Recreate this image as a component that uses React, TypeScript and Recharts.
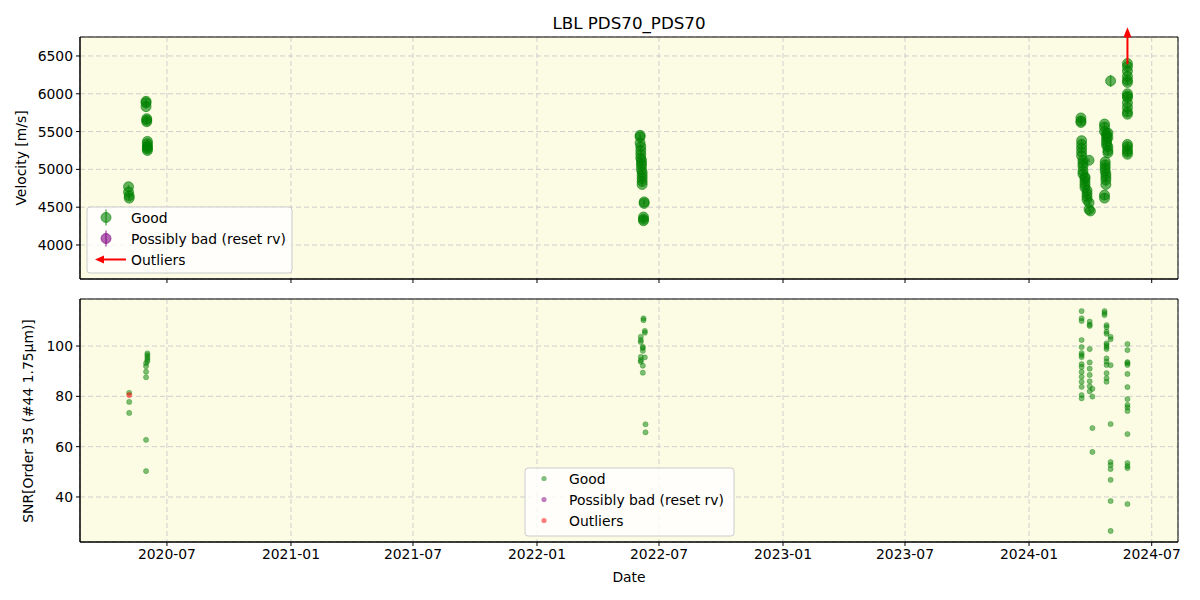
import { ComposedChart, Scatter, XAxis, YAxis, CartesianGrid, ErrorBar, ReferenceArea } from "recharts";

const FONT = "'DejaVu Sans', sans-serif";
const t = (s: string) => Date.parse(s + "T00:00:00Z");

const X_DOMAIN = ["2020-02-23", "2024-08-09"];
const X_TICKS = [
  "2020-07-01", "2021-01-01", "2021-07-01", "2022-01-01", "2022-07-01",
  "2023-01-01", "2023-07-01", "2024-01-01", "2024-07-01",
];
const VEL_DOMAIN = [3550, 6751];
const VEL_TICKS = [4000, 4500, 5000, 5500, 6000, 6500];
const SNR_DOMAIN = [22.1, 118.7];
const SNR_TICKS = [40, 60, 80, 100];

// velocity [m/s] per night, error ~25 m/s unless given separately
const velocityGood: [string, number[]][] = [
  ["2020-05-05", [4770, 4700]],
  ["2020-05-06", [4650, 4620]],
  ["2020-05-31", [5900, 5880, 5830]],
  ["2020-06-01", [5670, 5650, 5630]],
  ["2020-06-02", [5370, 5340, 5310, 5290, 5270, 5250]],
  ["2022-06-03", [5450, 5430, 5350]],
  ["2022-06-04", [5300, 5250, 5200, 5150]],
  ["2022-06-05", [5120, 5080, 5050, 5000]],
  ["2022-06-06", [4960, 4920, 4880, 4840, 4800]],
  ["2022-06-09", [4570, 4550]],
  ["2022-06-08", [4370, 4340, 4320]],
  ["2024-03-18", [5680, 5640, 5620]],
  ["2024-03-19", [5380, 5330, 5280, 5230, 5180]],
  ["2024-03-21", [5120, 5080, 5040, 4980, 4940]],
  ["2024-03-24", [4900, 4880, 4840, 4800, 4760]],
  ["2024-03-27", [4720, 4680, 4640, 4600]],
  ["2024-03-30", [4560, 4470, 5120]],
  ["2024-04-01", [4450]],
  ["2024-04-22", [5600, 5560, 5500, 4660, 4620]],
  ["2024-04-25", [5470, 5440, 5400, 5360, 5320]],
  ["2024-04-27", [5480, 5420, 5300, 5250, 5220]],
  ["2024-04-23", [5100, 5060, 5020, 4980]],
  ["2024-04-24", [4940, 4900, 4860, 4800]],
  ["2024-05-26", [6400, 6360, 6300, 6230, 6180, 6150, 6000, 5970, 5950, 5880, 5820, 5760, 5730, 5330, 5300, 5260, 5230, 5200]],
];
const velocityWideErr: [string, number, number][] = [["2024-05-01", 6170, 80]];
const velocityOutliers: [string, number][] = [["2024-05-26", 6390]];

// SNR in order 35 per night
const snrGood: [string, number[]][] = [
  ["2020-05-06", [81.4, 77.8, 73.4]],
  ["2020-06-02", [97.1, 96.4, 95.6, 94.8, 94]],
  ["2020-05-31", [93.2, 92, 89.8, 87.6, 62.7, 50.3]],
  ["2022-06-08", [111, 110.3]],
  ["2022-06-10", [106, 105.3, 95.5]],
  ["2022-06-04", [103.7, 102.4, 101.6, 95.7, 94.4, 93.8]],
  ["2022-06-07", [99.7, 99.2, 98.1, 92.2, 89.4]],
  ["2022-06-11", [68.9, 65.7]],
  ["2024-03-19", [113.9, 111, 110, 102.4, 99.6, 97.2, 96.4, 95.6, 92.8, 91.7, 89.7, 87.8, 85.8, 83.8, 80.5, 79.2]],
  ["2024-03-31", [109.7, 108.5, 108, 98.8, 93.5, 91, 88.5, 86, 84, 82]],
  ["2024-04-04", [83, 79.9, 67.4, 57.9]],
  ["2024-04-22", [113.9, 113.1, 112.3]],
  ["2024-04-25", [108.3, 107.5, 105.7, 104.9, 101.1, 100.4, 99.6, 98.8, 95.1, 93.8, 92.5, 89.2, 87.2, 85.8]],
  ["2024-05-01", [103.7, 102.7, 92.4, 69, 53.9, 52.7, 51.1, 46.8, 38.4, 26.5]],
  ["2024-05-26", [100.8, 98.4, 93.6, 93.2, 92.5, 88.9, 83.7, 78.9, 76.6, 75.6, 74.2, 65, 53.5, 52.3, 51.5, 37.2]],
];
const snrOutliers: [string, number][] = [["2020-05-06", 80.5]];

const flatten = (rows: [string, number[]][]) =>
  rows.flatMap(([d, vals]) => vals.map((y) => ({ x: t(d), y, err: 25 })));

const velData = [
  ...flatten(velocityGood),
  ...velocityWideErr.map(([d, y, err]) => ({ x: t(d), y, err })),
];
const velOutData = velocityOutliers.map(([d, y]) => ({ x: t(d), y }));
const snrData = flatten(snrGood);
const snrOutData = snrOutliers.map(([d, y]) => ({ x: t(d), y }));

const GREEN = "#008000";
const PURPLE = "#800080";
const RED = "#ff0000";

const tickStyle = { fill: "#000", fontSize: 13.9, fontFamily: FONT };

function bigDot(p: any) {
  return <circle cx={p.cx} cy={p.cy} r={5} fill={GREEN} fillOpacity={0.6} stroke={GREEN} strokeOpacity={0.6} strokeWidth={1} />;
}

function smallDot(color: string) {
  return (p: any) => (
    <circle cx={p.cx} cy={p.cy} r={2.6} fill={color} fillOpacity={0.5} stroke={color} strokeOpacity={0.5} strokeWidth={0.6} />
  );
}

function upArrow(p: any) {
  const { cx, cy } = p;
  return (
    <g>
      <line x1={cx} y1={cy} x2={cx} y2={cy - 28} stroke={RED} strokeWidth={2} />
      <polygon points={`${cx},${cy - 37} ${cx - 4},${cy - 27} ${cx + 4},${cy - 27}`} fill={RED} />
    </g>
  );
}

const fmtMonth = (v: number) => new Date(v).toISOString().slice(0, 7);

function xAxis(showLabels: boolean, height: number) {
  return (
    <XAxis
      type="number"
      dataKey="x"
      domain={[t(X_DOMAIN[0]), t(X_DOMAIN[1])]}
      ticks={X_TICKS.map(t)}
      tickFormatter={showLabels ? fmtMonth : () => ""}
      stroke="#000"
      tickSize={4}
      tickMargin={3}
      tick={tickStyle}
      height={height}
    />
  );
}

function frame(yDomain: number[]) {
  return (
    <ReferenceArea
      x1={t(X_DOMAIN[0])}
      x2={t(X_DOMAIN[1])}
      y1={yDomain[0]}
      y2={yDomain[1]}
      fill="none"
      stroke="#000"
      strokeWidth={1}
    />
  );
}

function LegendBox({ x, y, w, h, items }: { x: number; y: number; w: number; h: number; items: { label: string; marker: any }[] }) {
  return (
    <g>
      <rect x={x} y={y} width={w} height={h} rx={3} fill="#fff" fillOpacity={0.8} stroke="#cccccc" />
      {items.map((it, i) => (
        <g key={it.label}>
          {it.marker(x + 19, y + 10.5 + i * 21)}
          <text x={x + 44} y={y + 10.5 + i * 21} dominantBaseline="central" fontSize={13.9} fontFamily={FONT} fill="#000">
            {it.label}
          </text>
        </g>
      ))}
    </g>
  );
}

const topLegend = [
  {
    label: "Good",
    marker: (cx: number, cy: number) => (
      <g>
        <line x1={cx} y1={cy - 8} x2={cx} y2={cy + 8} stroke={GREEN} strokeOpacity={0.6} strokeWidth={1.5} />
        <circle cx={cx} cy={cy} r={5} fill={GREEN} fillOpacity={0.6} stroke={GREEN} strokeOpacity={0.6} />
      </g>
    ),
  },
  {
    label: "Possibly bad (reset rv)",
    marker: (cx: number, cy: number) => (
      <g>
        <line x1={cx} y1={cy - 8} x2={cx} y2={cy + 8} stroke={PURPLE} strokeOpacity={0.6} strokeWidth={1.5} />
        <circle cx={cx} cy={cy} r={5} fill={PURPLE} fillOpacity={0.6} stroke={PURPLE} strokeOpacity={0.6} />
      </g>
    ),
  },
  {
    label: "Outliers",
    marker: (cx: number, cy: number) => (
      <g>
        <line x1={cx - 4} y1={cy} x2={cx + 20} y2={cy} stroke={RED} strokeWidth={2} />
        <polygon points={`${cx - 11},${cy} ${cx - 2},${cy - 4} ${cx - 2},${cy + 4}`} fill={RED} />
      </g>
    ),
  },
];

const bottomLegend = [
  { label: "Good", marker: (cx: number, cy: number) => <circle cx={cx} cy={cy} r={2.6} fill={GREEN} fillOpacity={0.5} /> },
  { label: "Possibly bad (reset rv)", marker: (cx: number, cy: number) => <circle cx={cx} cy={cy} r={2.6} fill={PURPLE} fillOpacity={0.5} /> },
  { label: "Outliers", marker: (cx: number, cy: number) => <circle cx={cx} cy={cy} r={2.6} fill={RED} fillOpacity={0.5} /> },
];

export default function App() {
  return (
    <div style={{ position: "relative", width: 1200, height: 600, background: "#fff", fontFamily: FONT }}>
      <style>{`body { margin: 0; }`}</style>
      <div style={{ position: "absolute", left: 0, top: 0 }}>
        <ComposedChart width={1200} height={290} data={velData} margin={{ top: 37, right: 22, bottom: 0, left: 10 }}>
          <CartesianGrid fill="#fcfbe3" stroke="#cfcfcf" strokeDasharray="5 3" />
          {xAxis(false, 11)}
          <YAxis
            type="number"
            dataKey="y"
            domain={VEL_DOMAIN}
            ticks={VEL_TICKS}
            stroke="#000"
            tickSize={4}
            tickMargin={3}
            tick={tickStyle}
            width={70}
          />
          {frame(VEL_DOMAIN)}
          <Scatter data={velData} shape={bigDot} isAnimationActive={false}>
            <ErrorBar dataKey="err" direction="y" width={0} stroke={GREEN} strokeOpacity={0.6} strokeWidth={1.5} />
          </Scatter>
          <Scatter data={velOutData} shape={upArrow} isAnimationActive={false} />
        </ComposedChart>
      </div>
      <div style={{ position: "absolute", left: 0, top: 290 }}>
        <ComposedChart width={1200} height={310} data={snrData} margin={{ top: 9, right: 22, bottom: 0, left: 10 }}>
          <CartesianGrid fill="#fcfbe3" stroke="#cfcfcf" strokeDasharray="5 3" />
          {xAxis(true, 58)}
          <YAxis
            type="number"
            dataKey="y"
            domain={SNR_DOMAIN}
            ticks={SNR_TICKS}
            stroke="#000"
            tickSize={4}
            tickMargin={3}
            tick={tickStyle}
            width={70}
          />
          {frame(SNR_DOMAIN)}
          <Scatter data={snrData} shape={smallDot(GREEN)} isAnimationActive={false} />
          <Scatter data={snrOutData} shape={smallDot(RED)} isAnimationActive={false} />
        </ComposedChart>
      </div>
      <svg width={1200} height={600} style={{ position: "absolute", left: 0, top: 0, pointerEvents: "none" }}>
        <text x={629} y={23} textAnchor="middle" dominantBaseline="central" fontSize={16.7} fontFamily={FONT}>
          LBL PDS70_PDS70
        </text>
        <text x={21} y={158} textAnchor="middle" dominantBaseline="central" fontSize={13.9} fontFamily={FONT} transform="rotate(-90 21 158)">
          Velocity [m/s]
        </text>
        <text x={28} y={421} textAnchor="middle" dominantBaseline="central" fontSize={13.9} fontFamily={FONT} transform="rotate(-90 28 421)">
          SNR[Order 35 (#44 1.75μm)]
        </text>
        <text x={629} y={577} textAnchor="middle" dominantBaseline="central" fontSize={13.9} fontFamily={FONT}>
          Date
        </text>
        <LegendBox x={87} y={207} w={205} h={66} items={topLegend} />
        <LegendBox x={525} y={468} w={209} h={68} items={bottomLegend} />
      </svg>
    </div>
  );
}
